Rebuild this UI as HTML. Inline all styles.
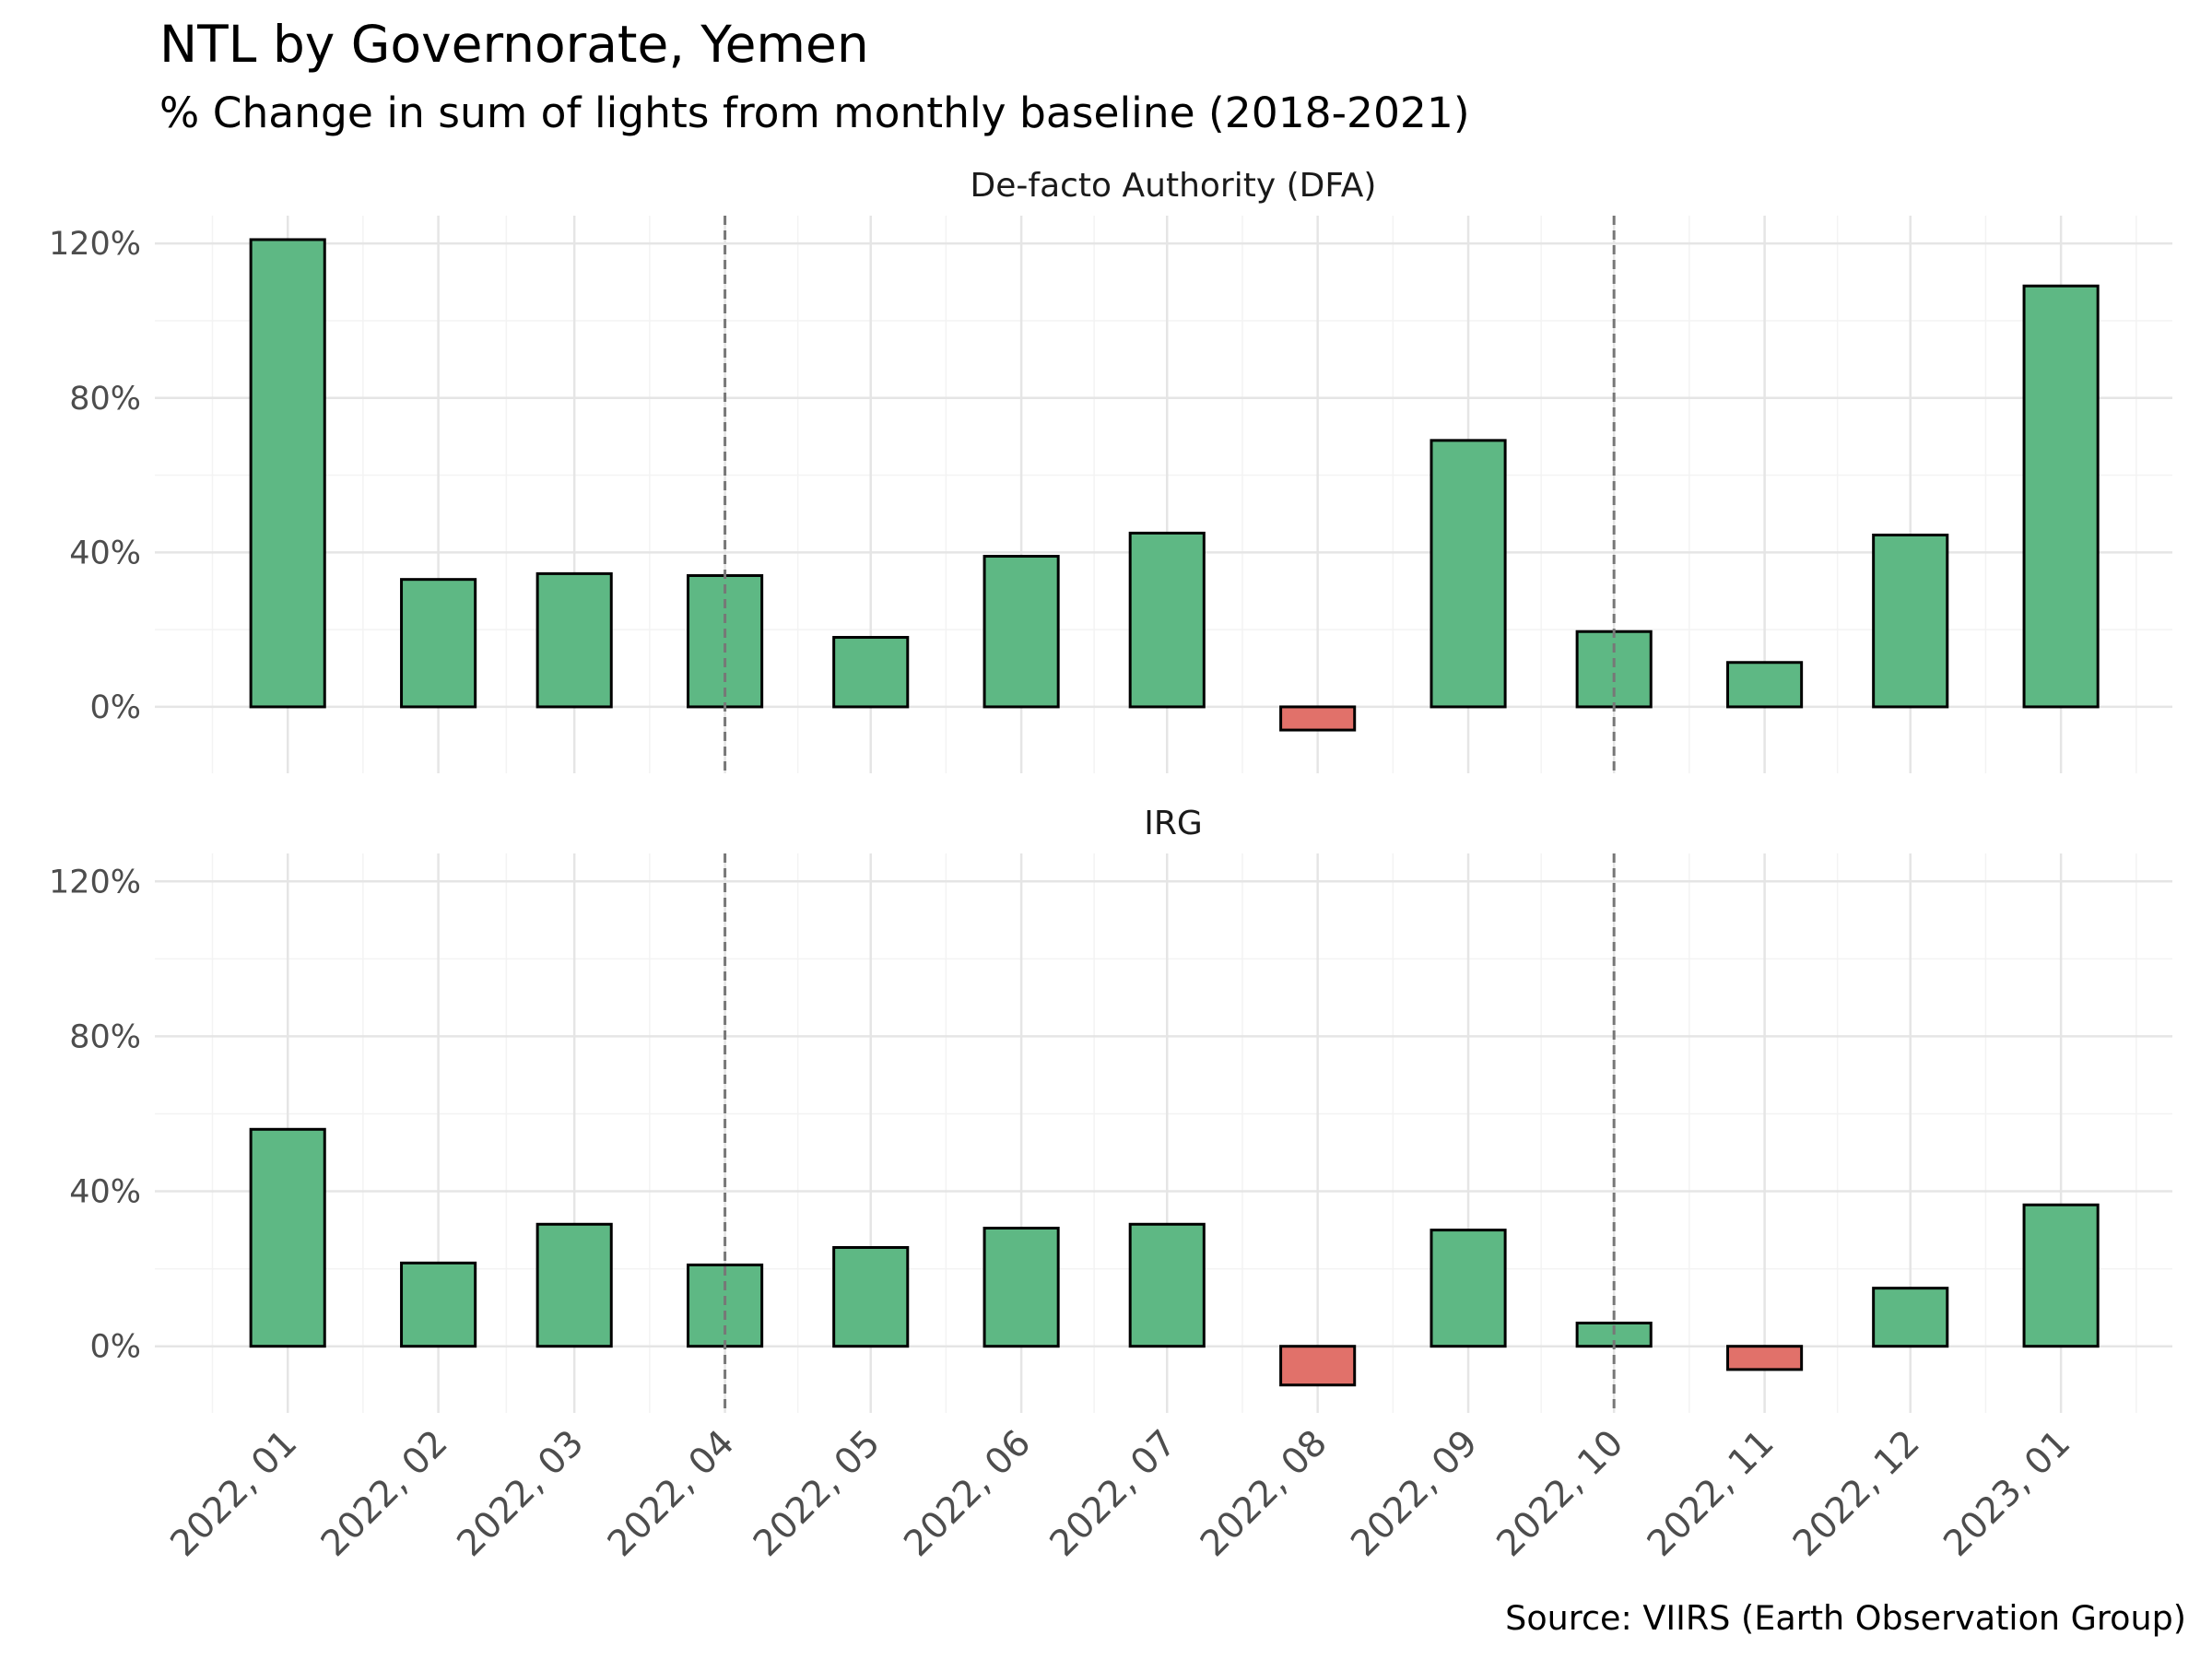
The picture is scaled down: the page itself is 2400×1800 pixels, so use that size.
<!DOCTYPE html>
<html><head><meta charset="utf-8"><style>
html,body{margin:0;padding:0;background:#fff;}
svg{display:block;font-family:"DejaVu Sans","Liberation Sans",sans-serif;}
</style></head><body>
<svg id="chart" width="2400" height="1800" viewBox="0 0 2400 1800" xmlns="http://www.w3.org/2000/svg">
<text x="173" y="67" font-size="55" fill="#000">NTL by Governorate, Yemen</text>
<text x="173" y="138" font-size="45.5" fill="#000">% Change in sum of lights from monthly baseline (2018-2021)</text>
<text x="2372" y="1768" font-size="36.5" text-anchor="end" fill="#000">Source: VIIRS (Earth Observation Group)</text>
<g id="panels"></g>
</svg>
<script>
const months = ["2022-01-01","2022-02-01","2022-03-01","2022-04-01","2022-05-01","2022-06-01","2022-07-01","2022-08-01","2022-09-01","2022-10-01","2022-11-01","2022-12-01","2023-01-01"];
const monthLabels = ["2022, 01","2022, 02","2022, 03","2022, 04","2022, 05","2022, 06","2022, 07","2022, 08","2022, 09","2022, 10","2022, 11","2022, 12","2023, 01"];
const dfaValues = [121, 33, 34.5, 34, 18, 39, 45, -6, 69, 19.5, 11.5, 44.5, 109];
const irgValues = [56, 21.5, 31.5, 21, 25.5, 30.5, 31.5, -10, 30, 6, -6, 15, 36.5];
const yTicks = [0, 40, 80, 120];
const yMinor = [-20, 20, 60, 100];
const yTickLabels = ["0%", "40%", "80%", "120%"];
const markerDates = ["2022-04-01", "2022-10-01"];
const panelNames = ["De-facto Authority (DFA)", "IRG"];

const NS = "http://www.w3.org/2000/svg";
const root = document.getElementById("panels");
const DAY = 86400000;
const t0 = Date.parse("2022-01-01");
const X0 = 312.2, PXDAY = 5.271;
const xScale = d => X0 + (Date.parse(d) - t0) / DAY * PXDAY;
const PLOT_L = 168, PLOT_R = 2357;
const YMIN = -17.2, YMAX = 127.2;
function mk(tag, attrs, parent) {
  const e = document.createElementNS(NS, tag);
  for (const k in attrs) e.setAttribute(k, attrs[k]);
  parent.appendChild(e);
  return e;
}
const panels = [
  {vals: dfaValues, top: 234, bottom: 839, strip: 213, key: "dfa"},
  {vals: irgValues, top: 926, bottom: 1533, strip: 905, key: "irg"}
];
panels.forEach((p, pi) => {
  const g = mk("g", {}, root);
  
  
  const y = v => p.bottom - (v - YMIN) / (YMAX - YMIN) * (p.bottom - p.top);
  const st = mk("text", {x: 1273, y: p.strip, "font-size": 36, "text-anchor": "middle", fill: "#1a1a1a"}, g);
  st.textContent = panelNames[pi];
  
  
  yMinor.forEach(v => {
    if (v < YMIN) return;
    const l = mk("line", {x1: PLOT_L, x2: PLOT_R, y1: y(v), y2: y(v), stroke: "#f3f3f3", "stroke-width": 1.5}, g);
    
    
  });
  const xs = months.map(xScale);
  const mids = [xs[0] - (xs[1] - xs[0]) / 2];
  for (let i = 0; i < xs.length - 1; i++) mids.push((xs[i] + xs[i + 1]) / 2);
  mids.push(xs[xs.length - 1] + (xs[xs.length - 1] - xs[xs.length - 2]) / 2);
  mids.forEach(mx => {
    const l = mk("line", {x1: mx, x2: mx, y1: p.top, y2: p.bottom, stroke: "#f3f3f3", "stroke-width": 1.5}, g);
    
    
  });
  yTicks.forEach((v, i) => {
    const l = mk("line", {x1: PLOT_L, x2: PLOT_R, y1: y(v), y2: y(v), stroke: "#e5e5e5", "stroke-width": 2.5}, g);
    
    
    const t = mk("text", {x: 153, y: y(v) + 12, "font-size": 35, "text-anchor": "end", fill: "#4d4d4d"}, g);
    t.textContent = yTickLabels[i];
    
    
  });
  months.forEach(m => {
    const l = mk("line", {x1: xScale(m), x2: xScale(m), y1: p.top, y2: p.bottom, stroke: "#e5e5e5", "stroke-width": 2.5}, g);
    
    
  });
  const halfW = 7.6 * PXDAY;
  p.vals.forEach((v, i) => {
    const cx = xScale(months[i]);
    const y1 = Math.min(y(v), y(0)), h = Math.abs(y(v) - y(0));
    const r = mk("rect", {x: cx - halfW, y: y1, width: 2 * halfW, height: h, fill: v >= 0 ? "#5eb884" : "#e1716a", stroke: "#000", "stroke-width": 3}, g);
    
    
  });
  markerDates.forEach(d => {
    const l = mk("line", {x1: xScale(d), x2: xScale(d), y1: p.top, y2: p.bottom, stroke: "#777", "stroke-width": 3, "stroke-dasharray": "10,6"}, g);
    
    
  });
  if (pi === 1) {
    monthLabels.forEach((lab, i) => {
      const cx = xScale(months[i]);
      const t = mk("text", {x: cx + 12, y: 1568, "font-size": 39, "text-anchor": "end", fill: "#4d4d4d", transform: `rotate(-45 ${cx + 12} 1568)`}, g);
      t.textContent = lab;
      
      
    });
  }
});
</script>
</body></html>
